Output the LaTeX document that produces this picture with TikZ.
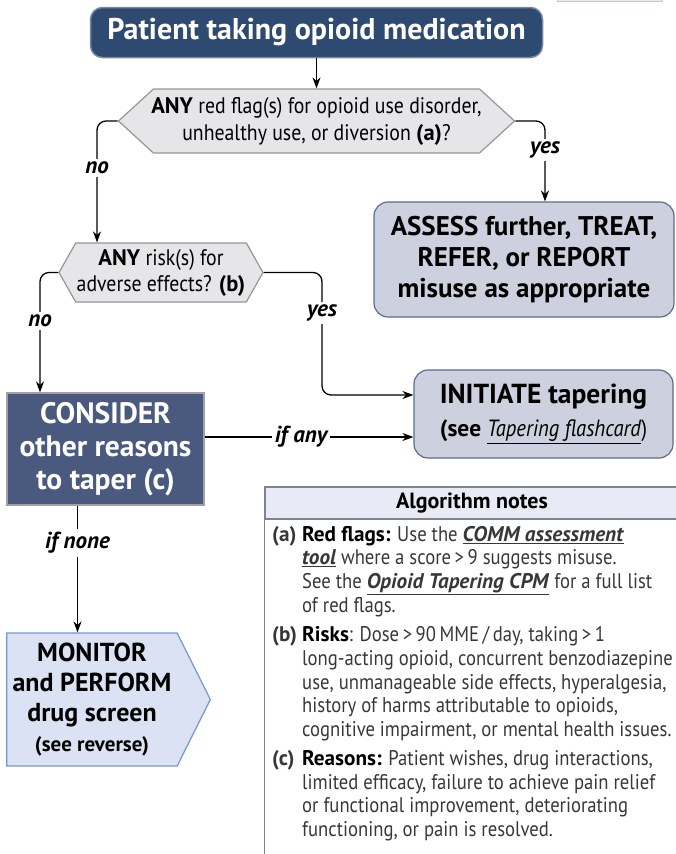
\documentclass[tikz,border=0pt]{standalone}
\usepackage{fontspec}
\setmainfont{PT Sans}[FakeStretch=0.88,
  BoldFeatures={FakeStretch=1.0}, BoldItalicFeatures={FakeStretch=1.0}]
\usepackage{tikz}
\definecolor{navy}{RGB}{46,74,112}
\definecolor{titleedge}{RGB}{120,135,160}
\definecolor{slate}{RGB}{74,90,126}
\definecolor{darkedge}{RGB}{160,160,165}
\definecolor{softgray}{RGB}{205,208,222}
\definecolor{softedge}{RGB}{92,108,143}
\definecolor{hexgray}{RGB}{230,230,232}
\definecolor{hexedge}{RGB}{150,150,150}
\definecolor{paleblue}{RGB}{218,226,243}
\definecolor{paleedge}{RGB}{120,150,200}
\definecolor{notehead}{RGB}{232,234,246}
\definecolor{noteedge}{RGB}{130,130,135}
\definecolor{notetext}{RGB}{55,55,55}
\usetikzlibrary{shapes.symbols}
\usetikzlibrary{arrows.meta}
\newcommand\notelink[1]{\underline{\textbf{\textit{#1}}}}
\tikzset{
  fc_node/.style = {align=center, inner sep=0pt, text centered},
  fc_title/.style = {fc_node, rectangle, rounded corners=12pt, fill=navy,
    draw=titleedge, line width=1.5pt, text=white,
    font=\fontsize{30}{34}\selectfont\bfseries},% start box
  fc_hex/.style = {fc_node, signal, signal to=west and east, fill=hexgray,
    draw=hexedge, line width=1.2pt, font=\fontsize{22.5}{27}\selectfont},% question
  fc_soft/.style = {fc_node, rectangle, rounded corners=14pt, fill=softgray,
    draw=softedge, line width=1.2pt, font=\fontsize{27}{31}\selectfont\bfseries},
  fc_dark/.style = {fc_node, rectangle, fill=slate, draw=darkedge,
    line width=1.2pt, text=white, font=\fontsize{29.5}{33}\selectfont\bfseries},
  fc_go/.style = {fc_node, signal, signal to=east, fill=paleblue,
    draw=paleedge, line width=1.2pt, font=\fontsize{26}{30}\selectfont\bfseries},
  fc_lbl/.style = {fill=white, inner sep=3pt,
    font=\fontsize{23}{26}\selectfont\bfseries\itshape},% answer on a line
  fc_arr/.style = {-{Stealth[length=11pt,width=8pt]}, line width=1.3pt,
    rounded corners=9pt},
}

\begin{document}
\begin{tikzpicture}[x=1pt,y=-1pt]
  \useasboundingbox (0,0) rectangle (675,854);
  \path[fill=notehead, draw=notehead!70!gray] (557,-10) rectangle (662,1.5);

  \node[fc_title, minimum width=452pt, minimum height=50pt] (start) at (316.5,32.5)
    {Patient taking opioid medication};
  \node[fc_hex, minimum width=396pt, minimum height=64pt, signal pointer angle=85,
    inner xsep=-8pt] (q_flags) at (316.5,121)
    {\textbf{ANY} red flag(s) for opioid use disorder,\\
     unhealthy use, or diversion \textbf{(a)}?};
  \node[fc_hex, minimum width=204pt, minimum height=59pt, signal pointer angle=121,
    inner xsep=-2pt, font=\fontsize{22.5}{26}\selectfont]
    (q_risk) at (161,272.5)
    {\textbf{ANY} risk(s) for\\ adverse effects? \textbf{(b)}};

  \node[fc_soft, minimum width=300pt, minimum height=115pt] (act_assess) at (524,259.5)
    {ASSESS further, TREAT,\\ REFER, or REPORT\\ misuse as appropriate};
  \node[fc_soft, minimum width=259pt, minimum height=88pt,
    font=\fontsize{27.5}{32}\selectfont\bfseries] (act_taper) at (543.5,414)
    {INITIATE tapering\\[1pt]
     {\fontsize{23.5}{24}\selectfont (see \underline{\mdseries\textit{Tapering flashcard}}\mdseries)}};
  \node[fc_dark, minimum width=197pt, minimum height=112pt] (act_consider) at (105.5,449)
    {CONSIDER\\ other reasons\\ to taper (c)};
  \node[fc_go, minimum width=203.5pt, minimum height=133pt, signal pointer angle=127]
    (act_monitor) at (92,699.5)
    {MONITOR\\ and PERFORM\\ drug screen\\
     {\fontsize{21}{22}\selectfont (see reverse)}};

  %   red flags
  \draw[fc_arr] (start.south) -- (q_flags.north);
  \coordinate (c_no1) at (97,168);
  \draw[fc_arr] (q_flags.west) -| (q_risk.north -| c_no1);
  \node[fc_lbl] (l_no1) at (c_no1) {no};
  \coordinate (c_yes1) at (545,150);
  \draw[fc_arr] (q_flags.east) -| (act_assess.north -| c_yes1);
  \node[fc_lbl] (l_yes1) at (c_yes1) {yes};

  %   risks
  \coordinate (c_no2) at (40,321);
  \draw[fc_arr] (q_risk.west) -| (act_consider.north -| c_no2);
  \node[fc_lbl] (l_no2) at (c_no2) {no};
  \coordinate (c_yes2) at (322,313);
  \draw[fc_arr] (q_risk.east) -| (c_yes2) |- ([yshift=19pt]act_taper.west);
  \node[fc_lbl] (l_yes2) at (c_yes2) {yes};

  %   other reasons
  \coordinate (c_any) at (301,437);
  \draw[fc_arr] (act_consider.east |- c_any) -- (act_taper.west |- c_any);
  \node[fc_lbl] (l_any) at (c_any) {if any};
  \coordinate (c_none) at (77.5,543);
  \draw[fc_arr] (act_consider.south -| c_none) -- (act_monitor.north -| c_none);
  \node[fc_lbl] (l_none) at (c_none) {if none};

  %   notes
  \node[fill=notehead, draw=noteedge, line width=1.2pt, minimum width=414pt,
    minimum height=32pt, font=\fontsize{22}{24}\selectfont\bfseries]
    (notes_head) at (472,503) {Algorithm notes};
  \draw[noteedge, line width=1.2pt] (notes_head.south west) -- ++(0,360);
  \node[anchor=base west, inner sep=0pt, text=notetext,
    font=\fontsize{21.2}{23.7}\selectfont] (notes_body) at (272,541)
    {\begin{tabular}[t]{@{}p{30pt}@{}l@{}}
     \textbf{(a)} & \textcolor{black}{\textbf{Red flags:}} Use the \notelink{COMM assessment}\\
         & \notelink{tool} where a score\,>\,9 suggests misuse.\\
         & See the \notelink{Opioid Tapering CPM} for a full list\\
         & of red flags.\\[6pt]
     \textbf{(b)} & \textcolor{black}{\textbf{Risks}}: Dose\,>\,90\,MME\,/\,day, taking\,>\,1\\
         & long-acting opioid, concurrent benzodiazepine\\
         & use, unmanageable side effects, hyperalgesia,\\
         & history of harms attributable to opioids,\\
         & cognitive impairment, or mental health issues.\\[5pt]
     \textbf{(c)} & \textcolor{black}{\textbf{Reasons:}} Patient wishes, drug interactions,\\
         & limited efficacy, failure to achieve pain relief\\
         & or functional improvement, deteriorating\\
         & functioning, or pain is resolved.
     \end{tabular}};
\end{tikzpicture}
\end{document}
